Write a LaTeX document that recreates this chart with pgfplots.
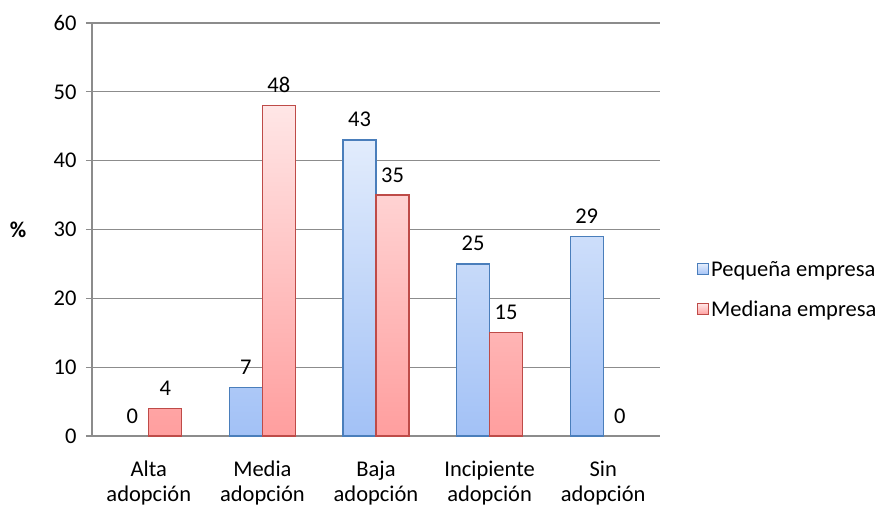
\documentclass[border=0pt]{standalone}
\usepackage{pgfplots}
\pgfplotsset{compat=1.18}
\usepackage{fontspec}
\setmainfont{Carlito}
\definecolor{gridgray}{HTML}{8C8C8C}
\definecolor{bluedraw}{HTML}{4A7EBB}
\definecolor{bluetop}{HTML}{E2ECFC}
\definecolor{bluebot}{HTML}{A2C1F6}
\definecolor{reddraw}{HTML}{BE4B48}
\definecolor{redtop}{HTML}{FFE6E6}
\definecolor{redbot}{HTML}{FF9E9E}
\newcommand{\cf}{\fontsize{22.5bp}{25bp}\selectfont}
\begin{document}
\begin{tikzpicture}
\begin{axis}[
  name=ax,
  scale only axis,
  width=568bp, height=413bp,
  ybar, bar width=33bp,
  xmin=-0.5, xmax=4.5,
  ymin=0, ymax=60,
  ytick={0,10,...,60},
  xtick={0,1,2,3,4},
  xticklabels={{Alta\\adopción},{Media\\adopción},{Baja\\adopción},{Incipiente\\adopción},{Sin\\adopción}},
  xticklabel style={align=center, font=\cf, yshift=-15bp},
  x tick style={draw=none},
  extra x ticks={-0.5,0.5,1.5,2.5,3.5,4.5},
  extra x tick labels={},
  extra x tick style={tick style={draw=gridgray, line width=1.2bp}, major tick length=7bp, grid=none},
  tick align=outside,
  major tick length=6bp,
  y tick style={draw=gridgray, line width=1.2bp},
  yticklabel style={font=\cf, xshift=-6bp},
  /pgf/number format/assume math mode=true,
  ymajorgrids,
  major grid style={draw=gridgray, line width=1.2bp},
  axis x line*=bottom, axis y line*=left,
  axis line style={draw=gridgray, line width=1.2bp},
  ylabel={\textbf{\%}},
  every axis y label/.style={at={(rel axis cs:0,0.5)}, xshift=-74bp, anchor=center, font=\cf},
  nodes near coords,
  every node near coord/.append style={font=\cf, color=black, yshift=9bp},
  legend style={draw=none, fill=none, at={(rel axis cs:1,0.5)}, anchor=west, xshift=37bp, yshift=-60bp, font=\cf, row sep=19bp, inner sep=0pt},
  legend cell align=left,
  legend image code/.code={\draw[#1, line width=1bp] (0bp,-5.5bp) rectangle (11bp,5.5bp);},
  clip=false,
]
\addplot[bar shift=-16.5bp, draw=bluedraw, line width=1.2bp, top color=bluetop, bottom color=bluebot] coordinates {(1,7) (2,43) (3,25) (4,29)};
\addplot[bar shift=16.5bp, draw=reddraw, line width=1.2bp, top color=redtop, bottom color=redbot] coordinates {(0,4) (1,48) (2,35) (3,15)};
\legend{Pequeña empresa, Mediana empresa}
\addplot[forget plot, bar shift=-16.5bp, draw=none, fill=none] coordinates {(0,0)};
\addplot[forget plot, bar shift=16.5bp, draw=none, fill=none] coordinates {(4,0)};
\end{axis}
\pgfresetboundingbox
\path (ax.south west) ++(-92bp,-71bp) rectangle ++(879bp,507bp);
\end{tikzpicture}
\end{document}
